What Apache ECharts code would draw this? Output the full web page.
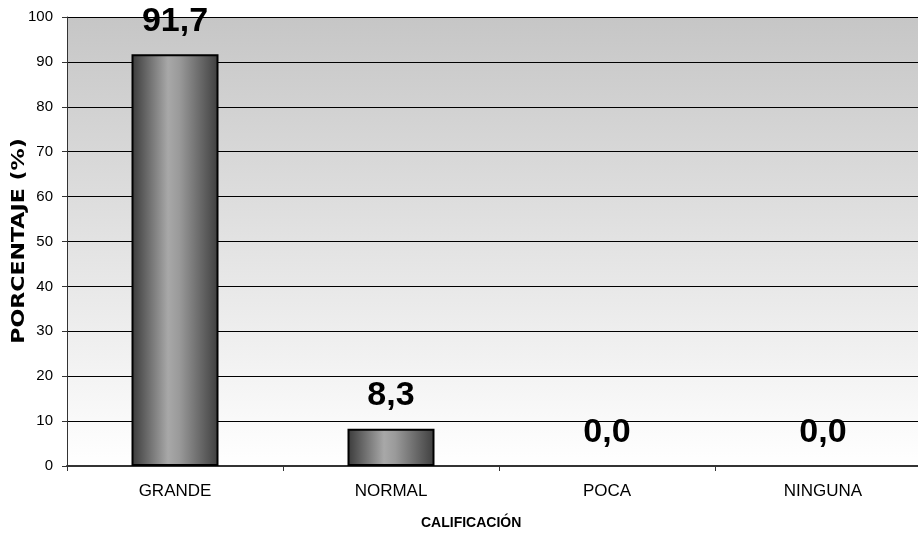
<!DOCTYPE html>
<html><head><meta charset="utf-8">
<script src="https://cdn.jsdelivr.net/npm/echarts@6/dist/echarts.min.js"></script>
<style>html,body{margin:0;padding:0;background:#fff}#c{width:918px;height:537px}</style>
</head><body><div id="c"></div>
<script>
const categories = ['GRANDE', 'NORMAL', 'POCA', 'NINGUNA'];
const values = [91.7, 8.3, 0.0, 0.0];
const yTicks = { min: 0, max: 100, interval: 10 };

const chart = echarts.init(document.getElementById('c'));
const barGrad = new echarts.graphic.LinearGradient(0, 0, 1, 0, [
  { offset: 0, color: '#3a3a3a' },
  { offset: 0.42, color: '#a8a8a8' },
  { offset: 0.55, color: '#9a9a9a' },
  { offset: 1, color: '#3e3e3e' }
]);
chart.setOption({
  animation: false,
  grid: {
    left: 67, top: 17, right: -13, bottom: 71,
    containLabel: false, outerBoundsMode: 'none',
    show: true, borderWidth: 0,
    backgroundColor: new echarts.graphic.LinearGradient(0, 0, 0, 1, [
      { offset: 0, color: '#c6c6c6' },
      { offset: 1, color: '#ffffff' }
    ])
  },
  xAxis: {
    type: 'category', data: categories,
    axisLine: { lineStyle: { color: '#333', width: 2 } },
    axisTick: { show: true, length: 5, lineStyle: { color: '#333' } },
    axisLabel: { color: '#000', fontSize: 17, fontFamily: 'Liberation Sans, Arial', margin: 17 }
  },
  yAxis: {
    type: 'value', min: yTicks.min, max: yTicks.max, interval: yTicks.interval,
    axisLine: { show: true, lineStyle: { color: '#333', width: 1 } },
    axisTick: { show: true, length: 5, lineStyle: { color: '#333' } },
    splitLine: { lineStyle: { color: '#000', width: 1 } },
    axisLabel: { color: '#000', fontSize: 15, fontFamily: 'Liberation Sans, Arial', margin: 14 }
  },
  graphic: [{
    type: 'text', left: 421, top: 516,
    style: { text: 'CALIFICACIÓN', fill: '#000', font: 'bold 14px "Liberation Sans", Arial' }
  }, {
    type: 'text', x: 20, y: 241, rotation: Math.PI / 2, scaleX: 1.3,
    style: { text: 'PORCENTAJE (%)', fill: '#000', font: 'bold 17px "DejaVu Sans"', align: 'center', verticalAlign: 'middle' }
  }],
  series: [{
    type: 'bar', barWidth: 87,
    data: values.map(v => ({ value: v, itemStyle: { borderWidth: v > 0 ? 2 : 0 } })),
    itemStyle: { color: barGrad, borderColor: '#000', borderWidth: 2 },
    label: {
      show: true, position: 'top', distance: 16,
      formatter: p => p.value.toFixed(1).replace('.', ','),
      color: '#000', fontSize: 34, fontWeight: 'bold', fontFamily: 'Liberation Sans, Arial'
    }
  }]
});
</script></body></html>
